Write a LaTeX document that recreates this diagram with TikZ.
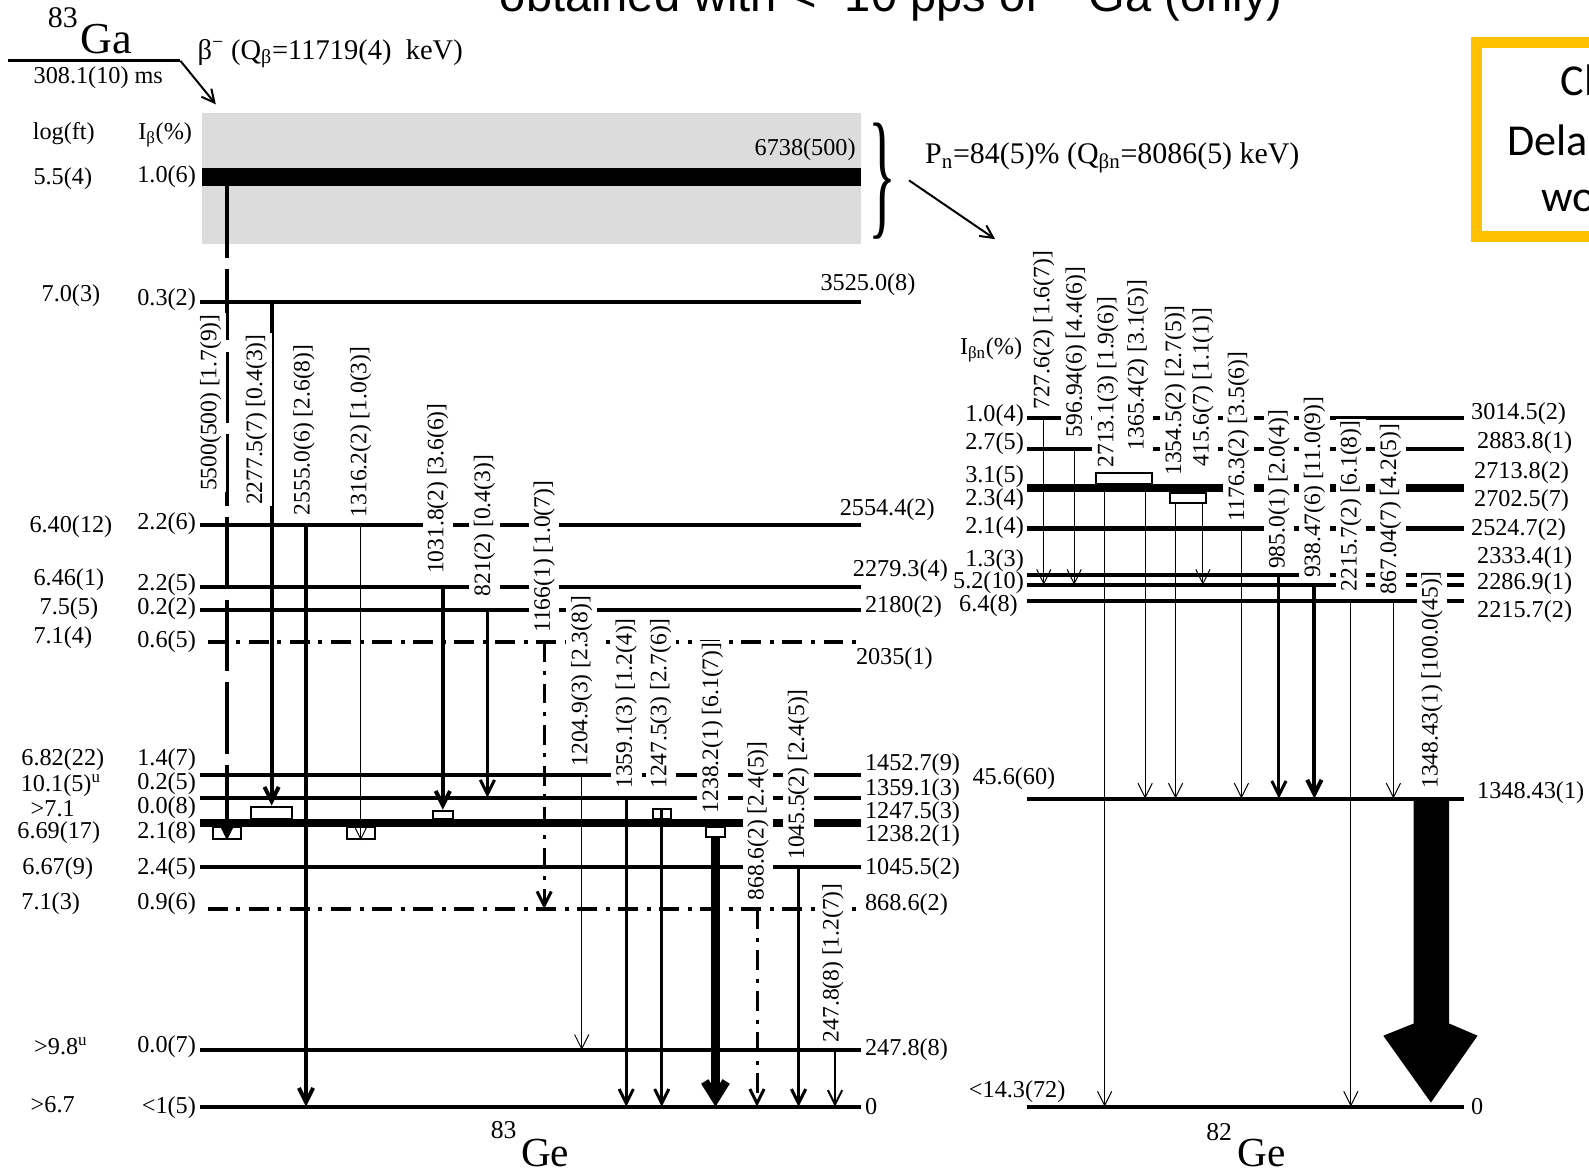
\documentclass[tikz,border=0pt]{standalone}
\usepackage{fontspec}
\setmainfont{Liberation Serif}
\newfontfamily\titlefont{Liberation Sans}
\newfontfamily\notefont{Carlito}
\usetikzlibrary{arrows.meta}
\definecolor{notegold}{HTML}{FFC000}
\definecolor{bandgray}{HTML}{DCDCDC}
\newcommand{\lvfont}{\fontsize{17}{19}\selectfont}
\newcommand{\gfont}{\fontsize{16.5}{18}\selectfont}

\begin{document}
\begin{tikzpicture}[x=0.025cm, y=-0.025cm,
lev/.style={line width=2.8pt},
tent/.style={dash pattern=on 14pt off 6pt on 2.8pt off 6pt},
gam/.style={-{Straight Barb[length=10pt,width=10pt]}},
g1/.style={gam, line width=0.7pt},
g2/.style={gam, line width=1.4pt},
g3/.style={gam, line width=2.1pt},
g4/.style={gam, line width=2.8pt},
glab/.style={rotate=90, anchor=west, fill=white, inner xsep=1pt, inner ysep=3.2pt, font=\gfont},
elab/.style={font=\lvfont, inner sep=1pt},
ibox/.style={draw, line width=1.4pt, fill=white, inner sep=0pt}]
\path[use as bounding box, clip] (0,0) rectangle (1568,1155);

% slide title and side note (cut by the page)
\node[font=\titlefont\fontsize{33}{36}\selectfont, anchor=base west, inner sep=0pt] (title) at (493,11) {obtained with <\textasciitilde10 pps of \textsuperscript{83}Ga (only)};
\draw[notegold, line width=7.8pt] (1620,42) -- (1457,42) -- (1457,233) -- (1620,233);
\node[font=\notefont\fontsize{31}{34}\selectfont, anchor=base west, inner sep=0pt] (note1) at (1540,94) {Cl};
\node[font=\notefont\fontsize{31}{34}\selectfont, anchor=base west, inner sep=0pt] (note2) at (1487,153) {Dela};
\node[font=\notefont\fontsize{31}{34}\selectfont, anchor=base west, inner sep=0pt] (note3) at (1521,209) {wo};

% mother
\node[font=\fontsize{21}{24}\selectfont] (ga83) at (62,17) {83};
\node[font=\fontsize{31}{34}\selectfont] (ga) at (105,39) {Ga};
\coordinate (gs) at (8,60);
\coordinate (gk) at (178,60);
\coordinate (gt) at (213,103);
\draw[line width=2.1pt] (gs) -- (gk);
\draw[line width=1.4pt, -{Straight Barb[length=9pt,width=9pt]}] (gk) -- (gt);
\node[elab] (ghalf) at (97,77) {308.1(10) ms};
\node[font=\fontsize{20}{22}\selectfont, anchor=west] (gq) at (190,53) {β\textsuperscript{−} (Q\textsubscript{β}=11719(4)\ \ keV)};

% unbound region
\fill[bandgray] (199,112) rectangle (850,241);
\fill (199,166) rectangle (850,184);
\coordinate (L6738) at (199,184);
\node[elab] (logft) at (63,132) {log(ft)};
\node[elab] (ib) at (163,133) {I\textsubscript{β}(\%)};
\node[font=\lvfont, inner sep=0pt, xscale=2.4, yscale=5.8] (brace) at (871,179) {\}};
\node[font=\fontsize{21}{24}\selectfont, anchor=west] (pn) at (908,156) {P\textsubscript{n}=84(5)\% (Q\textsubscript{βn}=8086(5) keV)};
\coordinate (ps) at (897,178);
\coordinate (pt) at (982,236);
\draw[line width=1.4pt, -{Straight Barb[length=9pt,width=9pt]}] (ps) -- (pt);

% levels 83Ge
\foreach \n/\y in {3525/298, 2554/518, 2279/579, 2180/602, 1452/765, 1359/787, 1247/810, 1238/814, 1045/856, 247/1036, 0/1092}
  \draw[lev] (197,\y) coordinate (L\n) -- (850,\y);
\draw[lev, tent, dash phase=23pt] (197,634) coordinate (L2035) -- (850,634);
\draw[lev, tent, dash phase=23pt] (197,897) coordinate (L868) -- (850,897);

% levels 82Ge
\foreach \n/\y in {3014/412, 2883/443, 2713/480, 2702/484, 2333/567, 2286/577, 2215/593, 1348/788, 0/1092}
  \draw[lev] (1013,\y) coordinate (R\n) -- (1445,\y);
\draw[line width=3.5pt] (1013,522) coordinate (R2524) -- (1445,522);

% split boxes
\node[ibox, minimum width=0.7cm, minimum height=0.3cm] (bA) at (224,822) {};
\node[ibox, minimum width=1.0cm, minimum height=0.3cm] (bB) at (268,802) {};
\node[ibox, minimum width=0.7cm, minimum height=0.3cm] (bC) at (356,822) {};
\node[ibox, minimum width=0.5cm, minimum height=0.2cm] (bD) at (437,804) {};
\node[ibox, minimum width=0.45cm, minimum height=0.25cm] (bE) at (653,803) {};
\node[ibox, minimum width=0.48cm, minimum height=0.25cm] (bF) at (706,821) {};
\node[ibox, minimum width=1.38cm, minimum height=0.275cm] (bG) at (1109,472) {};
\node[ibox, minimum width=0.88cm, minimum height=0.25cm] (bH) at (1172,491) {};

% gammas 83Ge
\draw[g4, dash pattern=on 50pt off 8pt] (L6738 -| bA) -- (bA.south);
\draw[g4] (L3525 -| bB) -- (bB.north);
\draw[g4] (L2554 -| 302,0) -- (L0 -| 302,0);
\draw[g1] (L2554 -| bC) -- (bC.south);
\draw[g4] (L2279 -| bD) -- (bD.north);
\draw[g3] (L2180 -| 481,0) -- (L1359 -| 481,0);
\draw[g3, tent] (L2035 -| 537,0) -- (L868 -| 537,0);
\draw[g1] (L1452 -| 574,0) -- (L247 -| 574,0);
\draw[g3] (L1359 -| 618,0) -- (L0 -| 618,0);
\draw[g3] (bE.north) -- (L0 -| bE);
\draw[line width=6pt, -{Straight Barb[length=12pt,width=15pt]}] (bF.south) -- (L0 -| bF);
\draw[g3, tent] (L868 -| 747,0) -- (L0 -| 747,0);
\draw[g3] (L1045 -| 788,0) -- (L0 -| 788,0);
\draw[g2] (L247 -| 824,0) -- (L0 -| 824,0);

% gammas 82Ge
\draw[g1] (R3014 -| 1030,0) -- (R2286 -| 1030,0);
\draw[g1] (R2883 -| 1060,0) -- (R2286 -| 1060,0);
\draw[g1] (1090,0 |- bG.south) -- (R0 -| 1090,0);
\draw[g1] (1130,0 |- bG.south) -- (R1348 -| 1130,0);
\draw[g1] (1160,0 |- bH.south) -- (R1348 -| 1160,0);
\draw[g1] (1187,0 |- bH.south) -- (R2286 -| 1187,0);
\draw[g1] (R2524 -| 1225,0) -- (R1348 -| 1225,0);
\draw[g3] (R2333 -| 1262,0) -- (R1348 -| 1262,0);
\draw[g4] (R2286 -| 1297,0) -- (R1348 -| 1297,0);
\draw[g1] (R2215 -| 1333,0) -- (R0 -| 1333,0);
\draw[g1] (R2215 -| 1375,0) -- (R1348 -| 1375,0);
\fill (R1348 -| 1395,0) -- (R1348 -| 1430,0) -- (1430,1010) -- (1458,1022) -- (1412,1088) -- (1365,1022) -- (1395,1010) -- cycle;

% gamma labels 83Ge
\node[glab] (t5500) at (208,486) {5500(500) [1.7(9)]};
\node[glab] (t2277) at (253,500) {2277.5(7) [0.4(3)]};
\node[glab] (t2555) at (300,510) {2555.0(6) [2.6(8)]};
\node[glab] (t1316) at (356,512) {1316.2(2) [1.0(3)]};
\node[glab] (t1031) at (432,568) {1031.8(2) [3.6(6)]};
\node[glab] (t821) at (478,590) {821(2) [0.4(3)]};
\node[glab] (t1166) at (537,626) {1166(1) [1.0(7)]};
\node[glab] (t1204) at (574,758) {1204.9(3) [2.3(8)]};
\node[glab] (t1359) at (618,780) {1359.1(3) [1.2(4)]};
\node[glab] (t1247) at (652,780) {1247.5(3) [2.7(6)]};
\node[glab] (t1238) at (703,804) {1238.2(1) [6.1(7)]};
\node[glab] (t868) at (748,890) {868.6(2) [2.4(5)]};
\node[glab] (t1045) at (788,850) {1045.5(2) [2.4(5)]};
\node[glab] (t247) at (822,1030) {247.8(8) [1.2(7)]};

% gamma labels 82Ge
\node[glab] (r727) at (1030,406) {727.6(2) [1.6(7)]};
\node[glab] (r596) at (1062,433) {596.94(6) [4.4(6)]};
\node[glab] (r2713) at (1093,463) {2713.1(3) [1.9(6)]};
\node[glab] (r1365) at (1123,446) {1365.4(2) [3.1(5)]};
\node[glab] (r1354) at (1160,471) {1354.5(2) [2.7(5)]};
\node[glab] (r415) at (1187,462) {415.6(7) [1.1(1)]};
\node[glab] (r1176) at (1222,516) {1176.3(2) [3.5(6)]};
\node[glab] (r985) at (1262,563) {985.0(1) [2.0(4)]};
\node[glab] (r938) at (1297,572) {938.47(6) [11.0(9)]};
\node[glab] (r2215) at (1333,585) {2215.7(2) [6.1(8)]};
\node[glab] (r867) at (1372,588) {867.04(7) [4.2(5)]};
\node[glab] (r1348) at (1413,780) {1348.43(1) [100.0(45)]};

% feeding 83Ge
\node[elab, anchor=east] (i6738) at (195,174) {1.0(6)};
\node[elab] (f6738) at (62,176) {5.5(4)};
\node[elab, anchor=east] (i3525) at (195,296) {0.3(2)};
\node[elab] (f3525) at (70,292) {7.0(3)};
\node[elab, anchor=east] (i2554) at (195,517) {2.2(6)};
\node[elab] (f2554) at (70,520) {6.40(12)};
\node[elab, anchor=east] (i2279) at (195,577) {2.2(5)};
\node[elab] (f2279) at (68,572) {6.46(1)};
\node[elab, anchor=east] (i2180) at (195,601) {0.2(2)};
\node[elab] (f2180) at (68,601) {7.5(5)};
\node[elab, anchor=east] (i2035) at (195,633) {0.6(5)};
\node[elab] (f2035) at (62,629) {7.1(4)};
\node[elab, anchor=east] (i1452) at (195,750) {1.4(7)};
\node[elab] (f1452) at (62,750) {6.82(22)};
\node[elab, anchor=east] (i1359) at (195,773) {0.2(5)};
\node[elab] (f1359) at (60,775) {10.1(5)\textsuperscript{u}};
\node[elab, anchor=east] (i1247) at (195,797) {0.0(8)};
\node[elab] (f1247) at (52,798) {>7.1};
\node[elab, anchor=east] (i1238) at (195,822) {2.1(8)};
\node[elab] (f1238) at (58,822) {6.69(17)};
\node[elab, anchor=east] (i1045) at (195,857) {2.4(5)};
\node[elab] (f1045) at (57,857) {6.67(9)};
\node[elab, anchor=east] (i868) at (195,892) {0.9(6)};
\node[elab] (f868) at (50,892) {7.1(3)};
\node[elab, anchor=east] (i247) at (195,1033) {0.0(7)};
\node[elab] (f247) at (60,1032) {>9.8\textsuperscript{u}};
\node[elab, anchor=east] (i0) at (195,1093) {<1(5)};
\node[elab] (f0) at (52,1090) {>6.7};

% energies 83Ge
\node[elab, anchor=east] (e6738) at (846,148) {6738(500)};
\node[elab, anchor=west] (e3525) at (808,281) {3525.0(8)};
\node[elab, anchor=west] (e2554) at (827,503) {2554.4(2)};
\node[elab, anchor=west] (e2279) at (840,563) {2279.3(4)};
\node[elab, anchor=west] (e2180) at (852,599) {2180(2)};
\node[elab, anchor=west] (e2035) at (843,650) {2035(1)};
\node[elab, anchor=west] (e1452) at (852,755) {1452.7(9)};
\node[elab, anchor=west] (e1359) at (852,779) {1359.1(3)};
\node[elab, anchor=west] (e1247) at (852,802) {1247.5(3)};
\node[elab, anchor=west] (e1238) at (852,825) {1238.2(1)};
\node[elab, anchor=west] (e1045) at (852,857) {1045.5(2)};
\node[elab, anchor=west] (e868) at (852,893) {868.6(2)};
\node[elab, anchor=west] (e247) at (852,1036) {247.8(8)};
\node[elab, anchor=west] (e0) at (852,1092) {0};

% feeding and energies 82Ge
\node[elab] (ibn) at (978,345) {I\textsubscript{βn}(\%)};
\node[elab, anchor=east] (p3014) at (1012,410) {1.0(4)};
\node[elab, anchor=east] (p2883) at (1012,438) {2.7(5)};
\node[elab, anchor=east] (p2713) at (1012,470) {3.1(5)};
\node[elab, anchor=east] (p2702) at (1012,493) {2.3(4)};
\node[elab, anchor=east] (p2524) at (1012,521) {2.1(4)};
\node[elab, anchor=east] (p2333) at (1012,553) {1.3(3)};
\node[elab, anchor=east] (p2286) at (1012,575) {5.2(10)};
\node[elab, anchor=east] (p2215) at (1006,598) {6.4(8)};
\node[elab, anchor=east] (p1348) at (1043,768) {45.6(60)};
\node[elab, anchor=east] (p0) at (1053,1077) {<14.3(72)};
\node[elab, anchor=west] (s3014) at (1450,408) {3014.5(2)};
\node[elab, anchor=west] (s2883) at (1456,437) {2883.8(1)};
\node[elab, anchor=west] (s2713) at (1453,466) {2713.8(2)};
\node[elab, anchor=west] (s2702) at (1453,494) {2702.5(7)};
\node[elab, anchor=west] (s2524) at (1450,523) {2524.7(2)};
\node[elab, anchor=west] (s2333) at (1456,550) {2333.4(1)};
\node[elab, anchor=west] (s2286) at (1456,576) {2286.9(1)};
\node[elab, anchor=west] (s2215) at (1456,604) {2215.7(2)};
\node[elab, anchor=west] (s1348) at (1456,782) {1348.43(1)};
\node[elab, anchor=west] (s0) at (1450,1092) {0};

% daughters
\node[font=\fontsize{18}{20}\selectfont] (ge83a) at (497,1115) {83};
\node[font=\fontsize{29}{32}\selectfont] (ge83b) at (538,1138) {Ge};
\node[font=\fontsize{18}{20}\selectfont] (ge82a) at (1203,1117) {82};
\node[font=\fontsize{29}{32}\selectfont] (ge82b) at (1245,1138) {Ge};
\end{tikzpicture}
\end{document}
